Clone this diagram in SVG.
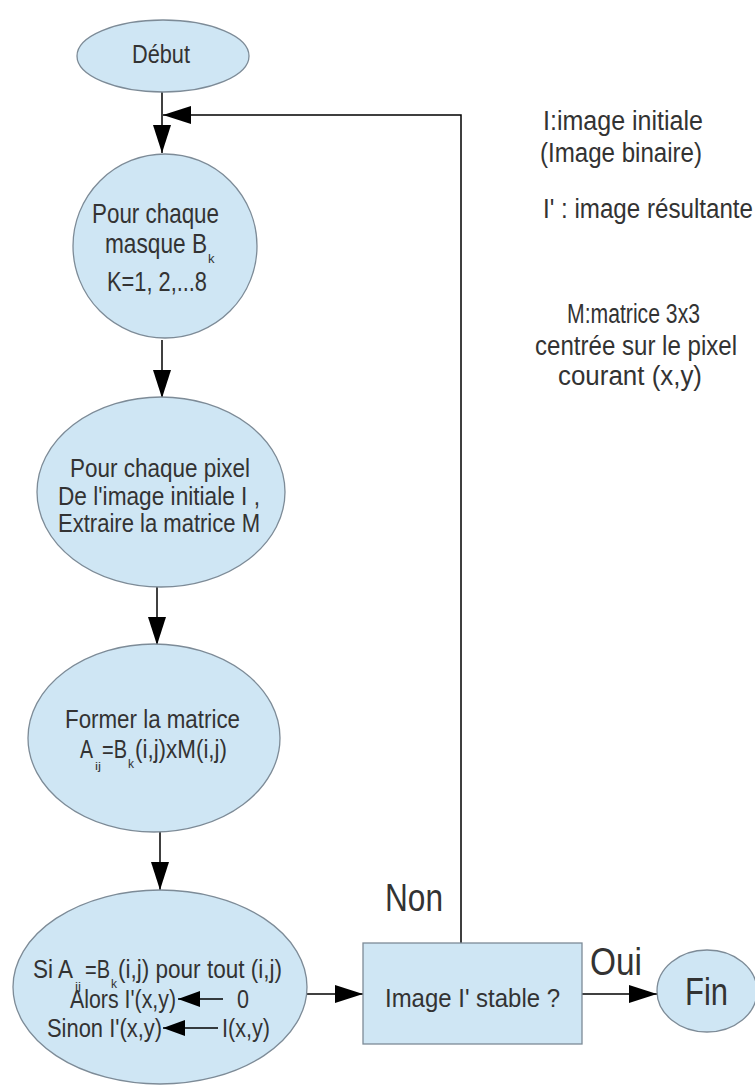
<svg xmlns="http://www.w3.org/2000/svg" width="755" height="1087" viewBox="0 0 755 1087">
<style>
.shape{fill:#cfe6f4;stroke:#7d8b97;stroke-width:1.3}
.t{font-family:"Liberation Sans Narrow","Liberation Sans",Arial,sans-serif;fill:#333333}
.c{stroke:#000;stroke-width:1.5;fill:none}
</style>
<defs>
<marker id="ah" markerUnits="userSpaceOnUse" markerWidth="30" markerHeight="20" refX="28" refY="9" orient="auto">
<path d="M0,0 L28,9 L0,18 z" fill="#000"/>
</marker>
<marker id="as" markerUnits="userSpaceOnUse" markerWidth="24" markerHeight="18" refX="22" refY="8" orient="auto">
<path d="M0,0 L22,8 L0,16 z" fill="#000"/>
</marker>
</defs>
<rect width="755" height="1087" fill="#ffffff"/>

<g id="connectors">
<line class="c" x1="162" y1="92" x2="162" y2="153" marker-end="url(#ah)"/>
<polyline class="c" points="461,943 461,115 163,115" marker-end="url(#ah)"/>
<line class="c" x1="162" y1="340" x2="162" y2="398" marker-end="url(#ah)"/>
<line class="c" x1="157" y1="587" x2="157" y2="645" marker-end="url(#ah)"/>
<line class="c" x1="160" y1="832" x2="160" y2="890" marker-end="url(#ah)"/>
<line class="c" x1="307" y1="994" x2="363" y2="994" marker-end="url(#ah)"/>
<line class="c" x1="582" y1="994" x2="657" y2="994" marker-end="url(#ah)"/>
</g>

<g id="debut">
<ellipse class="shape" cx="163" cy="56" rx="86" ry="36"/>
<text class="t" x="132" y="63" font-size="25" textLength="58" lengthAdjust="spacingAndGlyphs">Début</text>
</g>

<g id="masque">
<circle class="shape" cx="165" cy="246" r="92"/>
<text class="t" x="92" y="223" font-size="28" textLength="127" lengthAdjust="spacingAndGlyphs">Pour chaque</text>
<text class="t" x="105" y="253" font-size="28" textLength="102" lengthAdjust="spacingAndGlyphs">masque B</text>
<text class="t" x="208" y="263" font-size="13">k</text>
<text class="t" x="107" y="291" font-size="28" textLength="100" lengthAdjust="spacingAndGlyphs">K=1, 2,...8</text>
</g>

<g id="pixel">
<ellipse class="shape" cx="161" cy="492" rx="124" ry="95"/>
<text class="t" x="70" y="477" font-size="26" textLength="180" lengthAdjust="spacingAndGlyphs">Pour chaque pixel</text>
<text class="t" x="58" y="505" font-size="26" textLength="202" lengthAdjust="spacingAndGlyphs">De l'image initiale I ,</text>
<text class="t" x="58" y="532" font-size="26" textLength="202" lengthAdjust="spacingAndGlyphs">Extraire la matrice M</text>
</g>

<g id="former">
<ellipse class="shape" cx="154" cy="738" rx="126" ry="94"/>
<text class="t" x="65" y="728" font-size="26" textLength="175" lengthAdjust="spacingAndGlyphs">Former la matrice</text>
<text class="t" x="80" y="758" font-size="26" textLength="13" lengthAdjust="spacingAndGlyphs">A</text>
<text class="t" x="95" y="770" font-size="11" textLength="6" lengthAdjust="spacingAndGlyphs">ij</text>
<text class="t" x="102" y="758" font-size="26" textLength="25" lengthAdjust="spacingAndGlyphs">=B</text>
<text class="t" x="128" y="768" font-size="13" textLength="6" lengthAdjust="spacingAndGlyphs">k</text>
<text class="t" x="135" y="758" font-size="26" textLength="92" lengthAdjust="spacingAndGlyphs">(i,j)xM(i,j)</text>
</g>

<g id="test">
<ellipse class="shape" cx="160" cy="987" rx="147" ry="97"/>
<text class="t" x="33" y="978" font-size="26" textLength="40" lengthAdjust="spacingAndGlyphs">Si A</text>
<text class="t" x="75" y="990" font-size="11" textLength="6" lengthAdjust="spacingAndGlyphs">ij</text>
<text class="t" x="85" y="978" font-size="26" textLength="25" lengthAdjust="spacingAndGlyphs">=B</text>
<text class="t" x="111" y="988" font-size="13" textLength="6" lengthAdjust="spacingAndGlyphs">k</text>
<text class="t" x="118" y="978" font-size="26" textLength="164" lengthAdjust="spacingAndGlyphs">(i,j) pour tout (i,j)</text>
<text class="t" x="70" y="1008" font-size="26" textLength="106" lengthAdjust="spacingAndGlyphs">Alors I'(x,y)</text>
<line class="c" x1="223" y1="999" x2="178" y2="999" marker-end="url(#as)"/>
<text class="t" x="237" y="1008" font-size="26" textLength="12" lengthAdjust="spacingAndGlyphs">0</text>
<text class="t" x="47" y="1037" font-size="26" textLength="115" lengthAdjust="spacingAndGlyphs">Sinon I'(x,y)</text>
<line class="c" x1="218" y1="1028" x2="163" y2="1028" marker-end="url(#as)"/>
<text class="t" x="222" y="1037" font-size="26" textLength="48" lengthAdjust="spacingAndGlyphs">I(x,y)</text>
</g>

<g id="stable">
<rect class="shape" x="363" y="943" width="219" height="101"/>
<text class="t" x="385" y="1007" font-size="26" textLength="175" lengthAdjust="spacingAndGlyphs">Image I' stable ?</text>
</g>

<g id="fin">
<ellipse class="shape" cx="707" cy="991" rx="50" ry="41"/>
<text class="t" x="685" y="1005" font-size="38" textLength="43" lengthAdjust="spacingAndGlyphs">Fin</text>
</g>

<g id="labels">
<text class="t" x="385" y="911" font-size="38" textLength="58" lengthAdjust="spacingAndGlyphs">Non</text>
<text class="t" x="590" y="975" font-size="38" textLength="52" lengthAdjust="spacingAndGlyphs">Oui</text>
</g>

<g id="legend">
<text class="t" x="543" y="130" font-size="27" textLength="160" lengthAdjust="spacingAndGlyphs">I:image initiale</text>
<text class="t" x="540" y="162" font-size="27" textLength="162" lengthAdjust="spacingAndGlyphs">(Image binaire)</text>
<text class="t" x="543" y="218" font-size="27" textLength="210" lengthAdjust="spacingAndGlyphs">I' : image résultante</text>
<text class="t" x="567" y="323" font-size="27" textLength="133" lengthAdjust="spacingAndGlyphs">M:matrice 3x3</text>
<text class="t" x="535" y="355" font-size="27" textLength="202" lengthAdjust="spacingAndGlyphs">centrée sur le pixel</text>
<text class="t" x="558" y="385" font-size="27" textLength="144" lengthAdjust="spacingAndGlyphs">courant (x,y)</text>
</g>
</svg>
